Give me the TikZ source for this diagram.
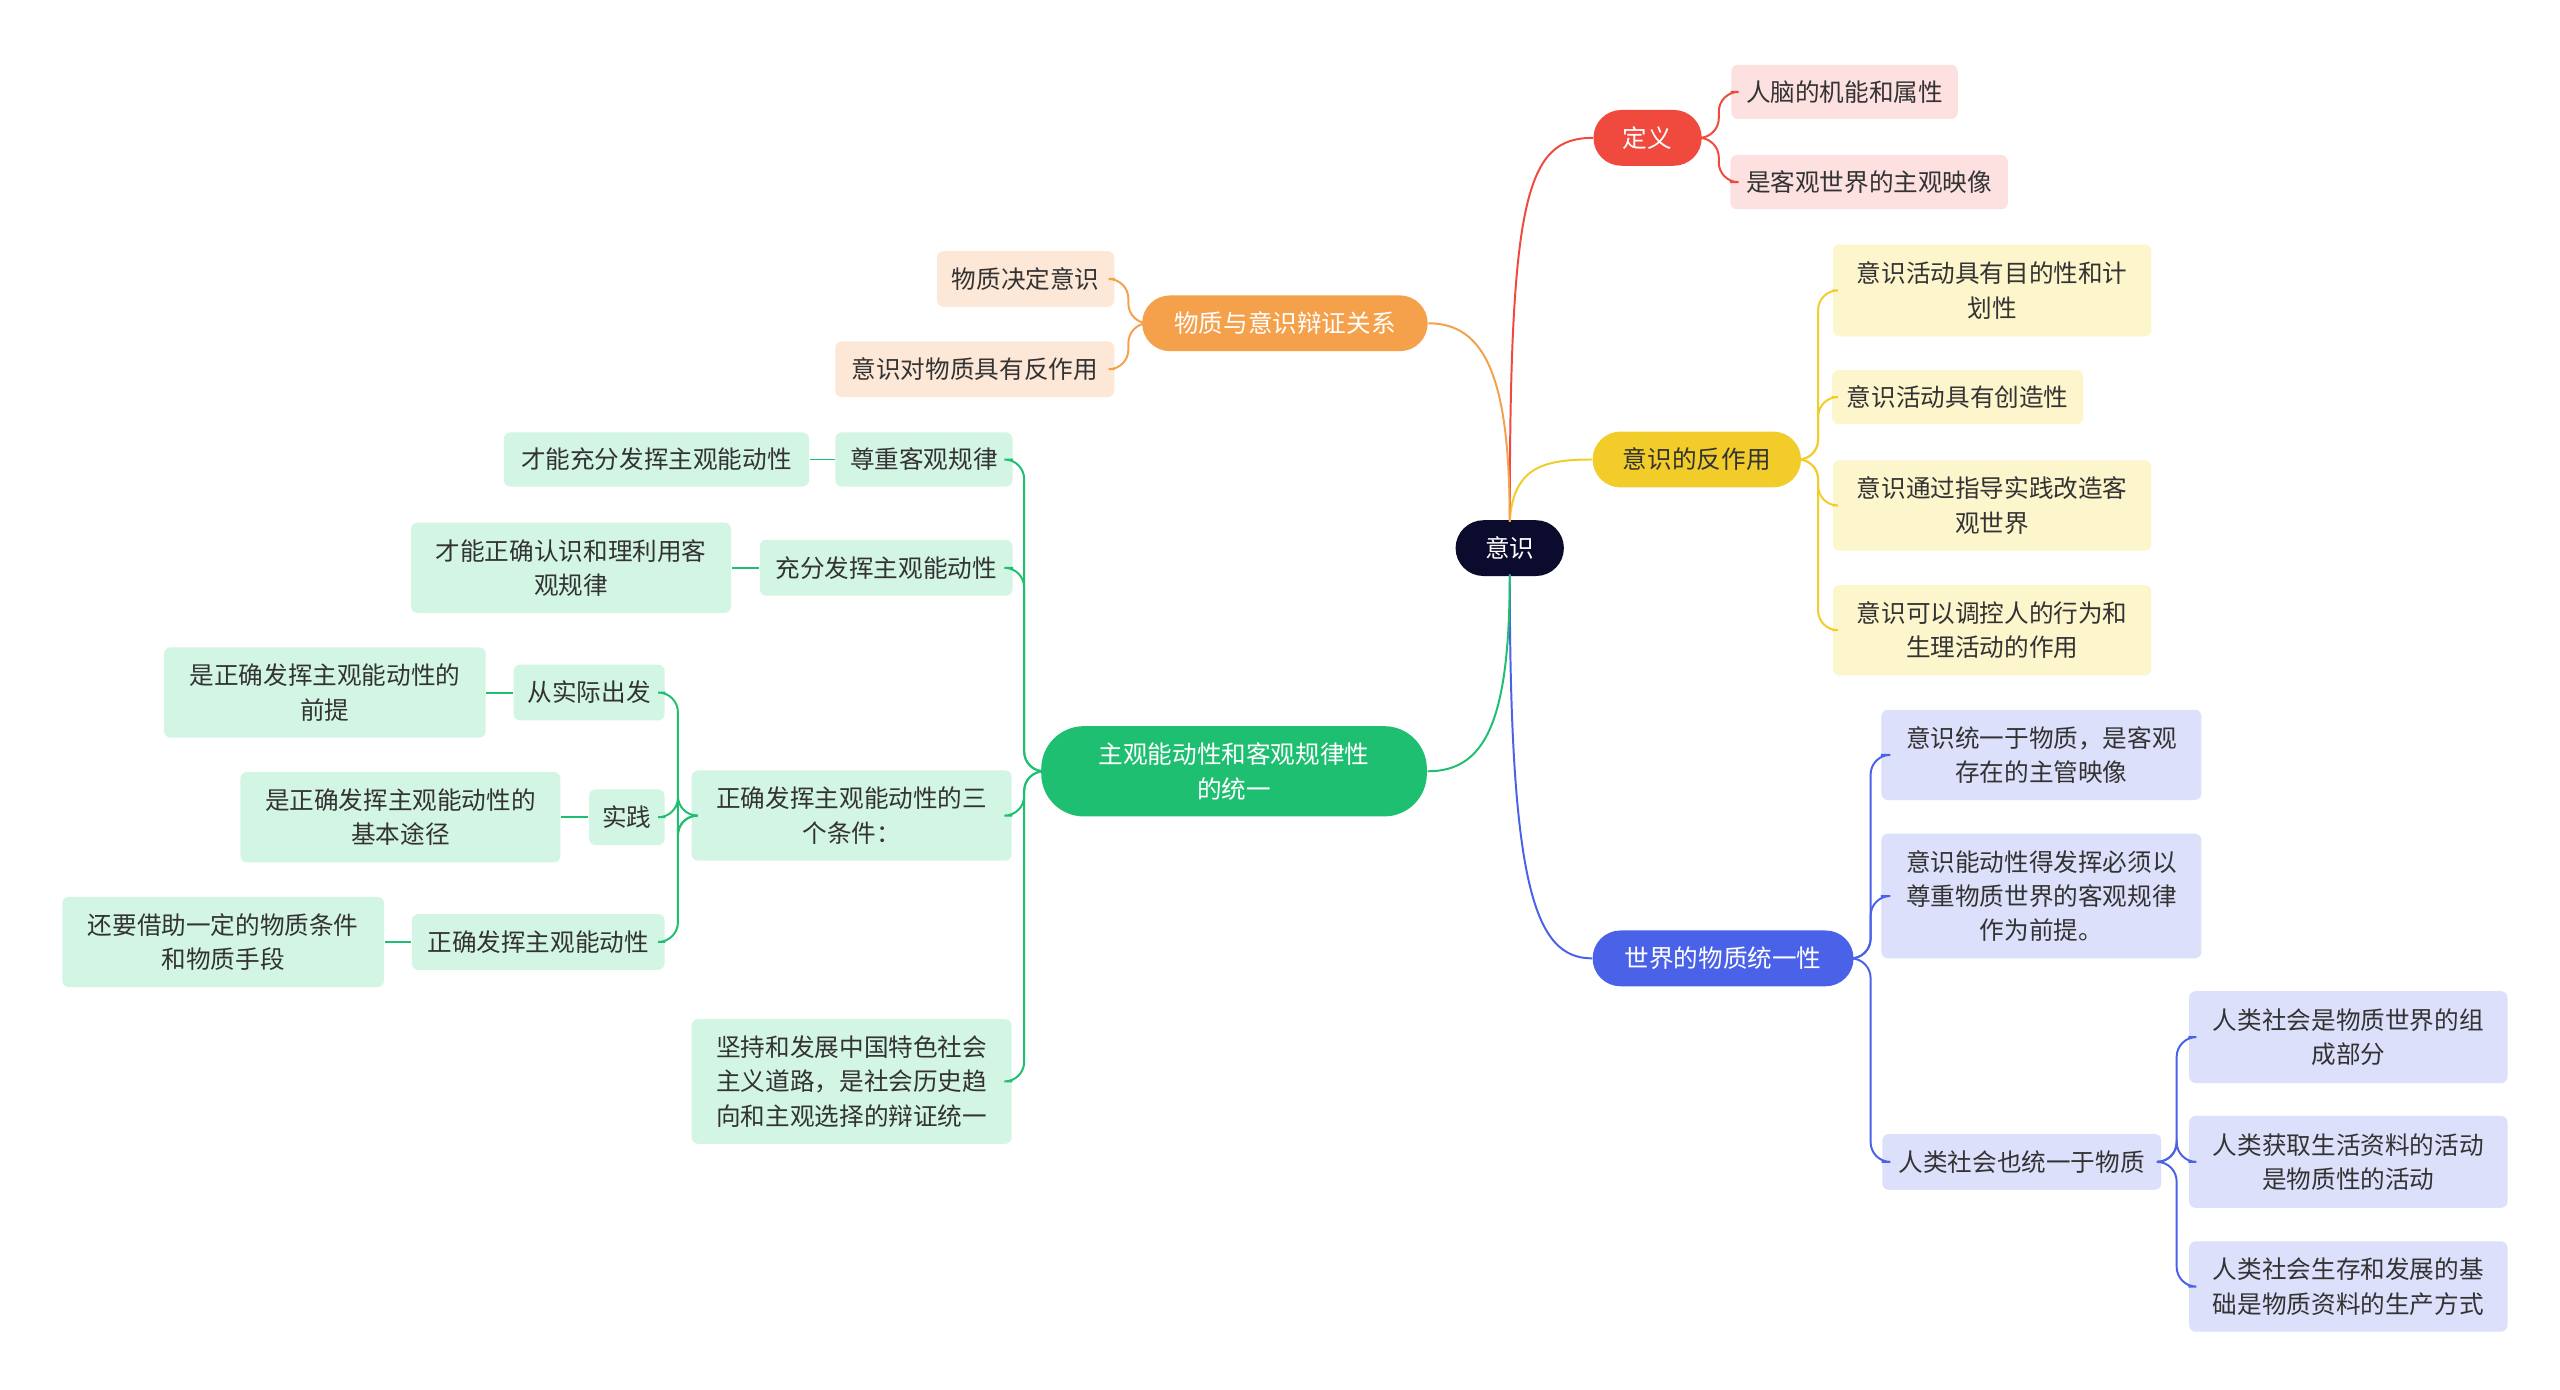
\documentclass[tikz,border=0pt]{standalone}
\usepackage{fontspec}
\setmainfont{Noto Sans CJK SC}
\begin{document}
\begin{tikzpicture}[x=0.5pt,y=-0.5pt,
  bx/.style={rounded corners=2pt,inner sep=0pt,align=center,font=\fontsize{7.5}{10.5}\selectfont,text=black!80},
  pill/.style={rounded corners=8.5pt,inner sep=0pt,align=center,font=\fontsize{7.5}{10.5}\selectfont,text=white},
  ln/.style={line width=0.6pt}]
\definecolor{cRed}{HTML}{F04A3E}\definecolor{cRedL}{HTML}{FDE0E0}
\definecolor{cOr}{HTML}{F5A04A}\definecolor{cOrL}{HTML}{FDE8D8}
\definecolor{cYe}{HTML}{F2CD2A}\definecolor{cYeL}{HTML}{FDF5CC}
\definecolor{cBl}{HTML}{4A62E8}\definecolor{cBlL}{HTML}{DDE0FB}
\definecolor{cGr}{HTML}{1FBF72}\definecolor{cGrL}{HTML}{D3F5E3}
\definecolor{cNv}{HTML}{0B0B2E}
\useasboundingbox[fill=white] (0,0) rectangle (1560,847);
\newcommand\nd[7]{\node[#6,minimum width={#4*0.5pt},minimum height={#5*0.5pt}] (#1) at (#2,#3) {#7};}
% root and branches
\nd{root}{920}{334}{66}{34}{pill,fill=cNv}{意识}
\nd{def}{1004}{84}{66}{34}{pill,fill=cRed}{定义}
\nd{rel}{783}{197}{174}{34}{pill,fill=cOr}{物质与意识辩证关系}
\nd{rea}{1034}{280}{127}{34}{pill,fill=cYe,text=black!80}{意识的反作用}
\nd{uni}{1050}{584}{159}{34}{pill,fill=cBl}{世界的物质统一性}
\nd{gr}{752}{470}{235}{55}{pill,fill=cGr,rounded corners=13pt}{主观能动性和客观规律性\\的统一}
% red
\nd{d1}{1124}{56}{138}{33}{bx,fill=cRedL}{人脑的机能和属性}
\nd{d2}{1139}{111}{169}{33}{bx,fill=cRedL}{是客观世界的主观映像}
% orange
\nd{o1}{625}{170}{108}{34}{bx,fill=cOrL}{物质决定意识}
\nd{o2}{594}{225}{170}{34}{bx,fill=cOrL}{意识对物质具有反作用}
% yellow
\nd{y1}{1214}{177}{194}{56}{bx,fill=cYeL}{意识活动具有目的性和计\\划性}
\nd{y2}{1193}{242}{153}{33}{bx,fill=cYeL}{意识活动具有创造性}
\nd{y3}{1214}{308}{194}{55}{bx,fill=cYeL}{意识通过指导实践改造客\\观世界}
\nd{y4}{1214}{384}{194}{55}{bx,fill=cYeL}{意识可以调控人的行为和\\生理活动的作用}
% blue
\nd{b1}{1244}{460}{195}{55}{bx,fill=cBlL}{意识统一于物质，是客观\\存在的主管映像}
\nd{b2}{1244}{546}{195}{76}{bx,fill=cBlL}{意识能动性得发挥必须以\\尊重物质世界的客观规律\\作为前提。}
\nd{b3}{1232}{708}{170}{34}{bx,fill=cBlL}{人类社会也统一于物质}
\nd{b31}{1431}{632}{194}{56}{bx,fill=cBlL}{人类社会是物质世界的组\\成部分}
\nd{b32}{1431}{708}{194}{56}{bx,fill=cBlL}{人类获取生活资料的活动\\是物质性的活动}
\nd{b33}{1431}{784}{194}{55}{bx,fill=cBlL}{人类社会生存和发展的基\\础是物质资料的生产方式}
% green
\nd{g1}{563}{280}{108}{33}{bx,fill=cGrL}{尊重客观规律}
\nd{g2}{540}{346}{154}{34}{bx,fill=cGrL}{充分发挥主观能动性}
\nd{g3}{519}{497}{195}{55}{bx,fill=cGrL}{正确发挥主观能动性的三\\个条件：}
\nd{g4}{519}{659}{195}{76}{bx,fill=cGrL}{坚持和发展中国特色社会\\主义道路，是社会历史趋\\向和主观选择的辩证统一}
\nd{g11}{400}{280}{186}{33}{bx,fill=cGrL}{才能充分发挥主观能动性}
\nd{g21}{348}{346}{195}{55}{bx,fill=cGrL}{才能正确认识和理利用客\\观规律}
\nd{g31}{359}{422}{92}{34}{bx,fill=cGrL}{从实际出发}
\nd{g32}{382}{498}{46}{34}{bx,fill=cGrL}{实践}
\nd{g33}{328}{574}{154}{34}{bx,fill=cGrL}{正确发挥主观能动性}
\nd{g311}{198}{422}{196}{55}{bx,fill=cGrL}{是正确发挥主观能动性的\\前提}
\nd{g321}{244}{498}{195}{55}{bx,fill=cGrL}{是正确发挥主观能动性的\\基本途径}
\nd{g331}{136}{574}{196}{55}{bx,fill=cGrL}{还要借助一定的物质条件\\和物质手段}
% root connectors
\draw[ln,cRed] (920,318) .. controls (920,120) and (930,84) .. (def.west);
\draw[ln,cYe] (920,318) .. controls (922,285) and (940,280) .. (rea.west);
\draw[ln,cBl] (920,350) .. controls (920,540) and (935,584) .. (uni.west);
\draw[ln,cOr] (920,318) .. controls (920,230) and (905,197) .. (rel.east);
\draw[ln,cGr] (920,350) .. controls (920,440) and (905,470) .. (gr.east);
% child connectors
\newcommand\rc[4]{\draw[ln,#1,rounded corners=6pt] (#2.east) -- ++(#4,0) |- (#3.west);}
\newcommand\lc[4]{\draw[ln,#1,rounded corners=6pt] (#2.west) -- ++(-#4,0) |- (#3.east);}
\foreach \c in {d1,d2}{\rc{cRed}{def}{\c}{10}}
\foreach \c in {y1,y2,y3,y4}{\rc{cYe}{rea}{\c}{10}}
\foreach \c in {b1,b2,b3}{\rc{cBl}{uni}{\c}{10}}
\foreach \c in {b31,b32,b33}{\rc{cBl}{b3}{\c}{9}}
\foreach \c in {o1,o2}{\lc{cOr}{rel}{\c}{8}}
\foreach \c in {g1,g2,g3,g4}{\lc{cGr}{gr}{\c}{10}}
\foreach \c in {g31,g32,g33}{\lc{cGr}{g3}{\c}{8}}
\draw[ln,cGr] (g1.west) -- (g11.east);
\draw[ln,cGr] (g2.west) -- (g21.east);
\draw[ln,cGr] (g31.west) -- (g311.east);
\draw[ln,cGr] (g32.west) -- (g321.east);
\draw[ln,cGr] (g33.west) -- (g331.east);
\end{tikzpicture}
\end{document}
